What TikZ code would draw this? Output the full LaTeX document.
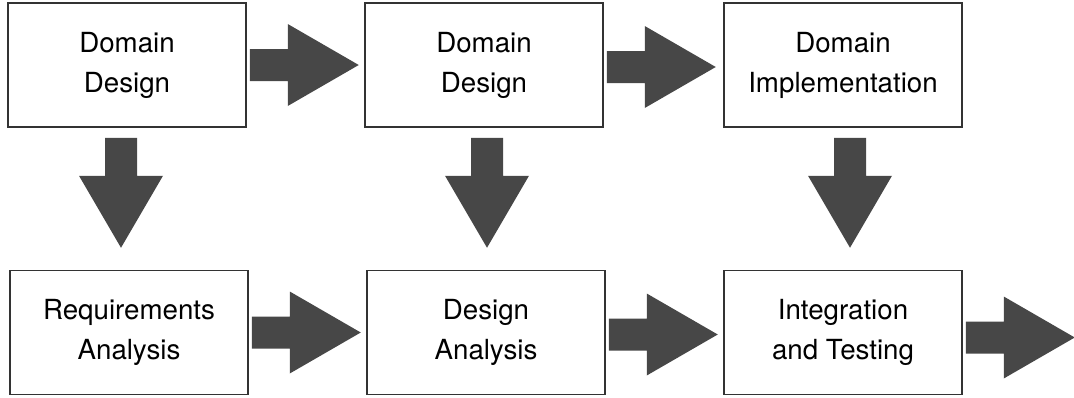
\documentclass[tikz,border=0pt]{standalone}
\usepackage{fontspec}
\setmainfont{TeX Gyre Heros}
\usetikzlibrary{calc}
\definecolor{arrowgray}{HTML}{474747}
\definecolor{boxline}{HTML}{333333}
\tikzset{
  stagebox/.style={draw=boxline, line width=1.5pt, fill=white, minimum width=238pt, minimum height=124pt,
    align=center, inner sep=0pt, font=\fontsize{27.7pt}{40pt}\selectfont},
  fatarrow/.style={fill=arrowgray, draw=none}
}
% right-pointing block arrow starting at #1 (tail centre)
\newcommand\RBlock[1]{\fill[fatarrow] (#1) ++(0,-16) -- ++(38,0) -- ++(0,-25) -- ++(71,41) -- ++(-71,41) -- ++(0,-25) -- ++(-38,0) -- cycle;}
% down-pointing block arrow starting at #1 (tail centre)
\newcommand\DBlock[1]{\fill[fatarrow] (#1) ++(-16,0) -- ++(0,38) -- ++(-26,0) -- ++(42,72) -- ++(42,-72) -- ++(-26,0) -- ++(0,-38) -- cycle;}
\begin{document}
\begin{tikzpicture}[x=1pt,y=-1pt]
\useasboundingbox (0,0) rectangle (1074,397);
\node[stagebox] (dd1) at (127,65) {Domain\\Design};
\node[stagebox] (dd2) at (484,65) {Domain\\Design};
\node[stagebox] (di) at (843,65) {Domain\\Implementation};
\node[stagebox] (ra) at (129,332.5) {Requirements\\Analysis};
\node[stagebox] (da) at (486,332.5) {Design\\Analysis};
\node[stagebox] (it) at (843,332.5) {Integration\\and Testing};
\coordinate (out) at ($(it.east)+(112,5)$);
% horizontal arrows
\RBlock{$(dd1.east)+(3,0)$}
\RBlock{$(dd2.east)+(3,2)$}
\RBlock{$(ra.east)+(3,0)$}
\RBlock{$(da.east)+(3,2)$}
\RBlock{$(it.east)+(3,5)$}
% vertical arrows
\DBlock{$(dd1.south)+(-6,10)$}
\DBlock{$(dd2.south)+(3,10)$}
\DBlock{$(di.south)+(7,10)$}
\end{tikzpicture}
\end{document}
